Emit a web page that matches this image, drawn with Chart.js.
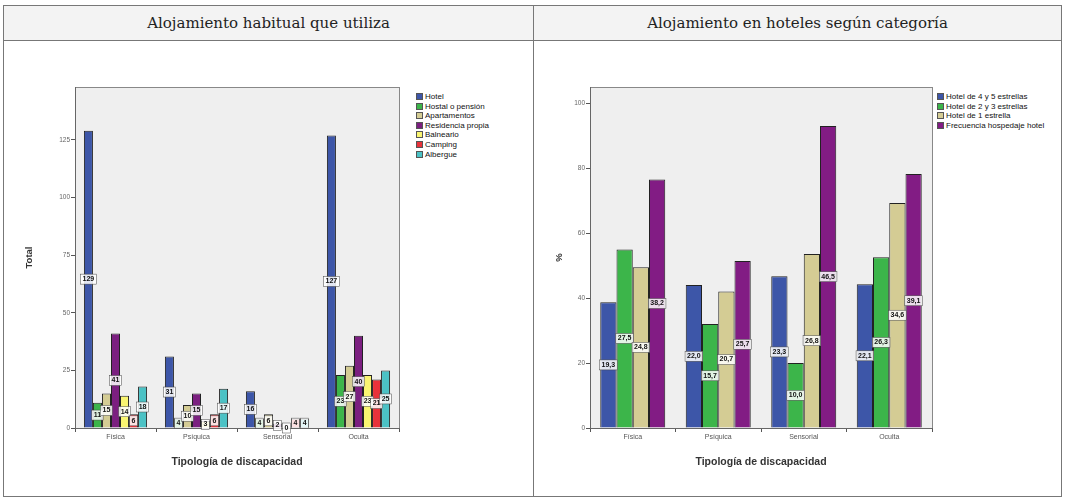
<!DOCTYPE html>
<html>
<head>
<meta charset="utf-8">
<script src="https://cdn.jsdelivr.net/npm/chart.js@4"></script>
<style>
  body { margin: 0; background: #fff; font-family: Arial, "Liberation Sans", sans-serif; }
  #page { position: relative; width: 1065px; height: 500px; }
  table { position: absolute; left: 3px; top: 5px; width: 1059px; height: 492px; border-collapse: collapse; }
  td, th { border: 1px solid #777; padding: 0; }
  th { height: 34px; background: #f3f3f3; font-family: "DejaVu Serif", "Liberation Serif", serif; font-weight: normal; font-size: 15px; color: #222; }
  .box { position: absolute; }
  .legend { position: absolute; font-size: 8px; color: #111; line-height: 9.6px; }
  .legend div { white-space: nowrap; }
  .legend span { display: inline-block; width: 7px; height: 7px; margin-right: 2px; vertical-align: -1px; border: 0.5px solid #555; box-sizing: border-box; }
</style>
</head>
<body>
<div id="page">
  <table>
    <tr><th style="width:529px">Alojamiento habitual que utiliza</th><th>Alojamiento en hoteles según categoría</th></tr>
    <tr><td></td><td></td></tr>
  </table>
  <div class="box" style="left:20px;top:80px;width:380px;height:392px"><canvas id="chart_one"></canvas></div>
  <div class="legend" id="legend_one" style="left:416px;top:92px"></div>
  <div class="box" style="left:550px;top:80px;width:383px;height:392px"><canvas id="chart_two"></canvas></div>
  <div class="legend" id="legend_two" style="left:937px;top:92px"></div>
</div>
<script>
// categories
const tipologia = ["Física", "Psíquica", "Sensorial", "Oculta"];

// left chart: total
const alojamientos = ["Hotel", "Hostal o pensión", "Apartamentos", "Residencia propia", "Balneario", "Camping", "Albergue"];
const hotel = [129, 31, 16, 127];
const hostal = [11, 4, 4, 23];
const apartamentos = [15, 10, 6, 27];
const residencia = [41, 15, 2, 40];
const balneario = [14, 3, 0, 23];
const camping = [6, 6, 4, 21];
const albergue = [18, 17, 4, 25];
const ticksLeft = [0, 25, 50, 75, 100, 125];

// right chart: %
const categorias = ["Hotel de 4 y 5 estrellas", "Hotel de 2 y 3 estrellas", "Hotel de 1 estrella", "Frecuencia hospedaje hotel"];
const hotel45 = [38.7, 44.0, 46.7, 44.3];
const hotel23 = [55.0, 32.0, 20.0, 52.6];
const hotel1 = [49.5, 42.0, 53.6, 69.3];
const frecuencia = [76.5, 51.4, 93.0, 78.2];
// the value boxes on the right chart
const etiq45 = ["19,3", "22,0", "23,3", "22,1"];
const etiq23 = ["27,5", "15,7", "10,0", "26,3"];
const etiq1 = ["24,8", "20,7", "26,8", "34,6"];
const etiqFrec = ["38,2", "25,7", "46,5", "39,1"];
const ticksRight = [0, 20, 40, 60, 80, 100];

const coloresLeft = ['#3d56a8', '#3cb54a', '#d4cc94', '#7b1f80', '#f9f571', '#e8323a', '#4bc2c5'];
const coloresRight = ['#3d56a8', '#3cb54a', '#d4cc94', '#821c84'];

// plot background + value boxes at middle of each bar
const spssLook = {
    id: 'spssLook',
    beforeDraw(chart) {
        const a = chart.chartArea;
        const c = chart.ctx;
        c.save();
        c.fillStyle = '#efefef';
        c.fillRect(a.left, a.top, a.right - a.left, a.bottom - a.top);
        c.strokeStyle = '#888';
        c.lineWidth = 1;
        c.strokeRect(a.left + 0.5, a.top + 0.5, a.right - a.left, a.bottom - a.top);
        c.restore();
    },
    afterDatasetsDraw(chart) {
        const c = chart.ctx;
        c.save();
        c.font = 'bold 7px Arial';
        c.textAlign = 'center';
        c.textBaseline = 'middle';
        chart.data.datasets.forEach((ds, i) => {
            chart.getDatasetMeta(i).data.forEach((bar, j) => {
                const txt = ds.etiquetas ? ds.etiquetas[j] : String(ds.data[j]);
                const mid = (bar.y + bar.base) / 2;
                const w = c.measureText(txt).width + 4;
                c.fillStyle = 'rgba(255,255,255,0.85)';
                c.fillRect(bar.x - w / 2, mid - 5, w, 10);
                c.strokeStyle = '#444';
                c.lineWidth = 0.5;
                c.strokeRect(bar.x - w / 2, mid - 5, w, 10);
                c.fillStyle = '#111';
                c.fillText(txt, bar.x, mid);
            });
        });
        c.restore();
    }
};

function makeLegend(idName, names, colors) {
    const el = document.getElementById(idName);
    names.forEach((n, i) => {
        el.innerHTML += '<div><span style="background:' + colors[i] + '"></span>' + n + '</div>';
    });
}

function makeChart(idName, series, names, colors, labels, maxY, tickList, yTitle, catPct, axisW) {
    const ct = document.getElementById(idName);
    new Chart(ct, {
        type: 'bar',
        data: {
            labels: tipologia,
            datasets: series.map((s, i) => ({
                label: names[i],
                data: s,
                etiquetas: labels ? labels[i] : null,
                backgroundColor: colors[i],
                borderColor: '#222',
                borderWidth: 1,
                borderSkipped: 'bottom',
                categoryPercentage: catPct,
                barPercentage: 1
            }))
        },
        options: {
            responsive: true,
            maintainAspectRatio: false,
            animation: false,
            layout: { padding: { top: 7, right: 1 } },
            plugins: { legend: { display: false }, tooltip: { enabled: false } },
            scales: {
                x: {
                    grid: { display: true, drawOnChartArea: false, tickLength: 4, color: '#555' },
                    border: { color: '#666' },
                    ticks: { color: '#555', font: { size: 7 }, padding: 1 },
                    title: { display: true, text: 'Tipología de discapacidad', color: '#333', font: { size: 10.5, weight: 'bold' }, padding: { top: 6 } },
                    afterFit: (sc) => { sc.height = 44; }
                },
                y: {
                    min: 0,
                    max: maxY,
                    afterBuildTicks: (sc) => { sc.ticks = tickList.map(v => ({ value: v })); },
                    grid: { display: true, drawOnChartArea: false, tickLength: 4, color: '#555' },
                    border: { color: '#666' },
                    ticks: { color: '#666', font: { size: 6.5 }, padding: 1 },
                    title: { display: true, text: yTitle, color: '#333', font: { size: 9.5, weight: 'bold' } },
                    afterFit: (sc) => { sc.width = axisW; }
                }
            }
        },
        plugins: [spssLook]
    });
}

makeLegend('legend_one', alojamientos, coloresLeft);
makeLegend('legend_two', categorias, coloresRight);
makeChart('chart_one', [hotel, hostal, apartamentos, residencia, balneario, camping, albergue],
    alojamientos, coloresLeft, null, 148, ticksLeft, 'Total', 0.78, 55);
makeChart('chart_two', [hotel45, hotel23, hotel1, frecuencia],
    categorias, coloresRight, [etiq45, etiq23, etiq1, etiqFrec], 105, ticksRight, '%', 0.76, 40);
</script>
</body>
</html>
